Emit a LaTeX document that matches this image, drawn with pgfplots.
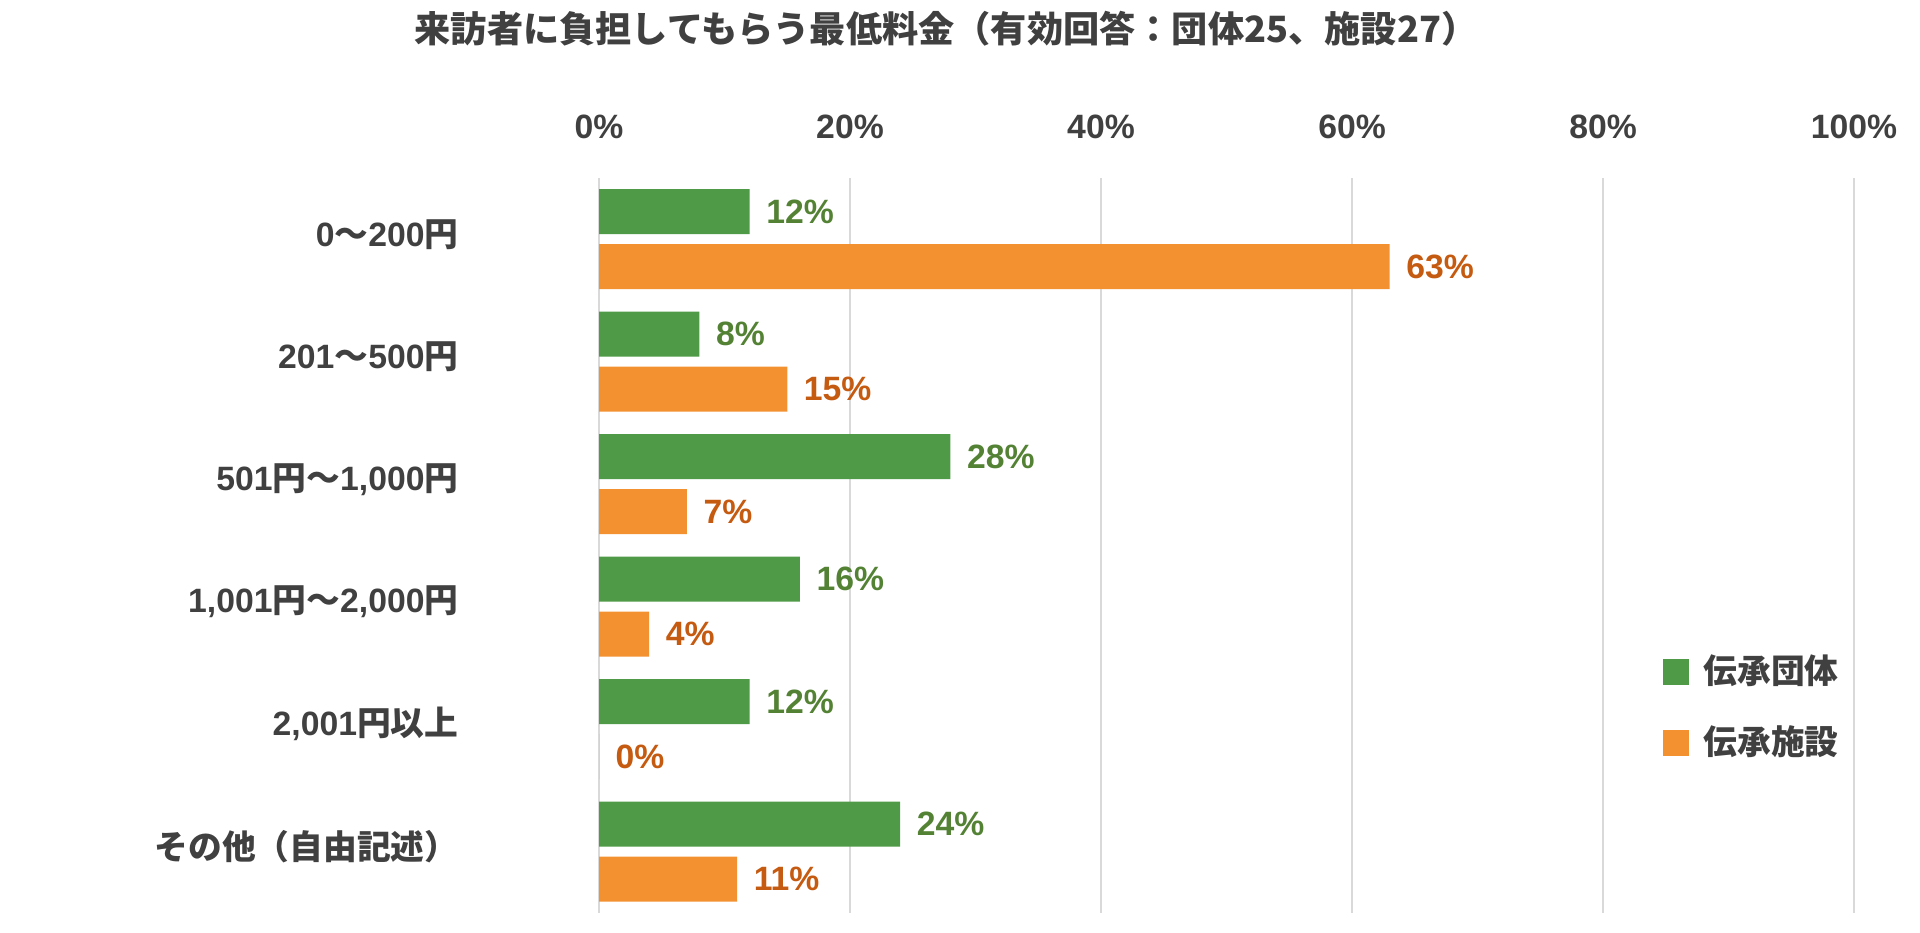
\documentclass[border=0pt]{standalone}
\usepackage{fontspec}
\setmainfont{Noto Sans CJK JP}
\newfontfamily\lat{Liberation Sans}
\usepackage{pgfplots}
\pgfplotsset{compat=1.18}
\definecolor{gbar}{HTML}{4E9A46}
\definecolor{obar}{HTML}{F39131}
\definecolor{glab}{HTML}{548235}
\definecolor{olab}{HTML}{C55A11}
\definecolor{txt}{HTML}{404040}
\definecolor{grd}{HTML}{D9D9D9}
\begin{document}
\begin{tikzpicture}[font=\fontsize{9.6}{11}\selectfont\bfseries]
\path[use as bounding box] (0,0) rectangle (192mm,93.3mm);
\node[txt, anchor=center, font=\fontsize{10.3}{12}\selectfont\bfseries] at (94.6mm,90.4mm) {来訪者に負担してもらう最低料金（有効回答：団体25、施設27）};
\begin{axis}[
  at={(59.9mm,2.0mm)}, anchor=south west,
  scale only axis, width=125.5mm, height=73.5mm,
  xbar, bar width=4.5mm,
  xmin=0, xmax=100, ymin=-0.5, ymax=5.5,
  axis line style={draw=none},
  xtick={0,20,40,60,80,100},
  xticklabel pos=upper,
  xticklabel={\lat\pgfmathprintnumber{\tick}\%},
  xticklabel style={text=txt, inner sep=0pt, yshift=3.8mm},
  /pgf/number format/assume math mode=true,
  major tick length=0pt,
  xmajorgrids, major grid style={grd, line width=0.6pt},
  ytick={0,1,2,3,4,5},
  yticklabels={その他（自由記述）,{\lat 2,001}円以上,{\lat 1,001}円～{\lat 2,000}円,{\lat 501}円～{\lat 1,000}円,{\lat 201}～{\lat 500}円,{\lat 0}～{\lat 200}円},
  yticklabel style={text=txt, anchor=east, inner sep=0pt, xshift=-14mm, yshift=0.5mm},
  nodes near coords={\lat\pgfmathprintnumber{\pgfplotspointmeta}\%},
  nodes near coords align={horizontal},
  every node near coord/.append style={inner sep=0pt, xshift=1.6mm, anchor=west},
  legend style={draw=none, fill=none, at={(rel axis cs:0.847,0.28)}, anchor=west,
    inner sep=0pt, row sep=0.7mm, text=txt, nodes={inner sep=1.5mm}},
  legend cell align=left,
  legend image code/.code={\fill[#1] (0,-1.3mm) rectangle (2.6mm,1.3mm);},
]
\addplot[fill=gbar, draw=none, bar shift=2.75mm, every node near coord/.append style={text=glab}]
  coordinates {(12,5) (8,4) (28,3) (16,2) (12,1) (24,0)};
\addplot[fill=obar, draw=none, bar shift=-2.75mm, every node near coord/.append style={text=olab}]
  coordinates {(63,5) (15,4) (7,3) (4,2) (0,1) (11,0)};
\legend{伝承団体,伝承施設}
\end{axis}
\end{tikzpicture}
\end{document}
